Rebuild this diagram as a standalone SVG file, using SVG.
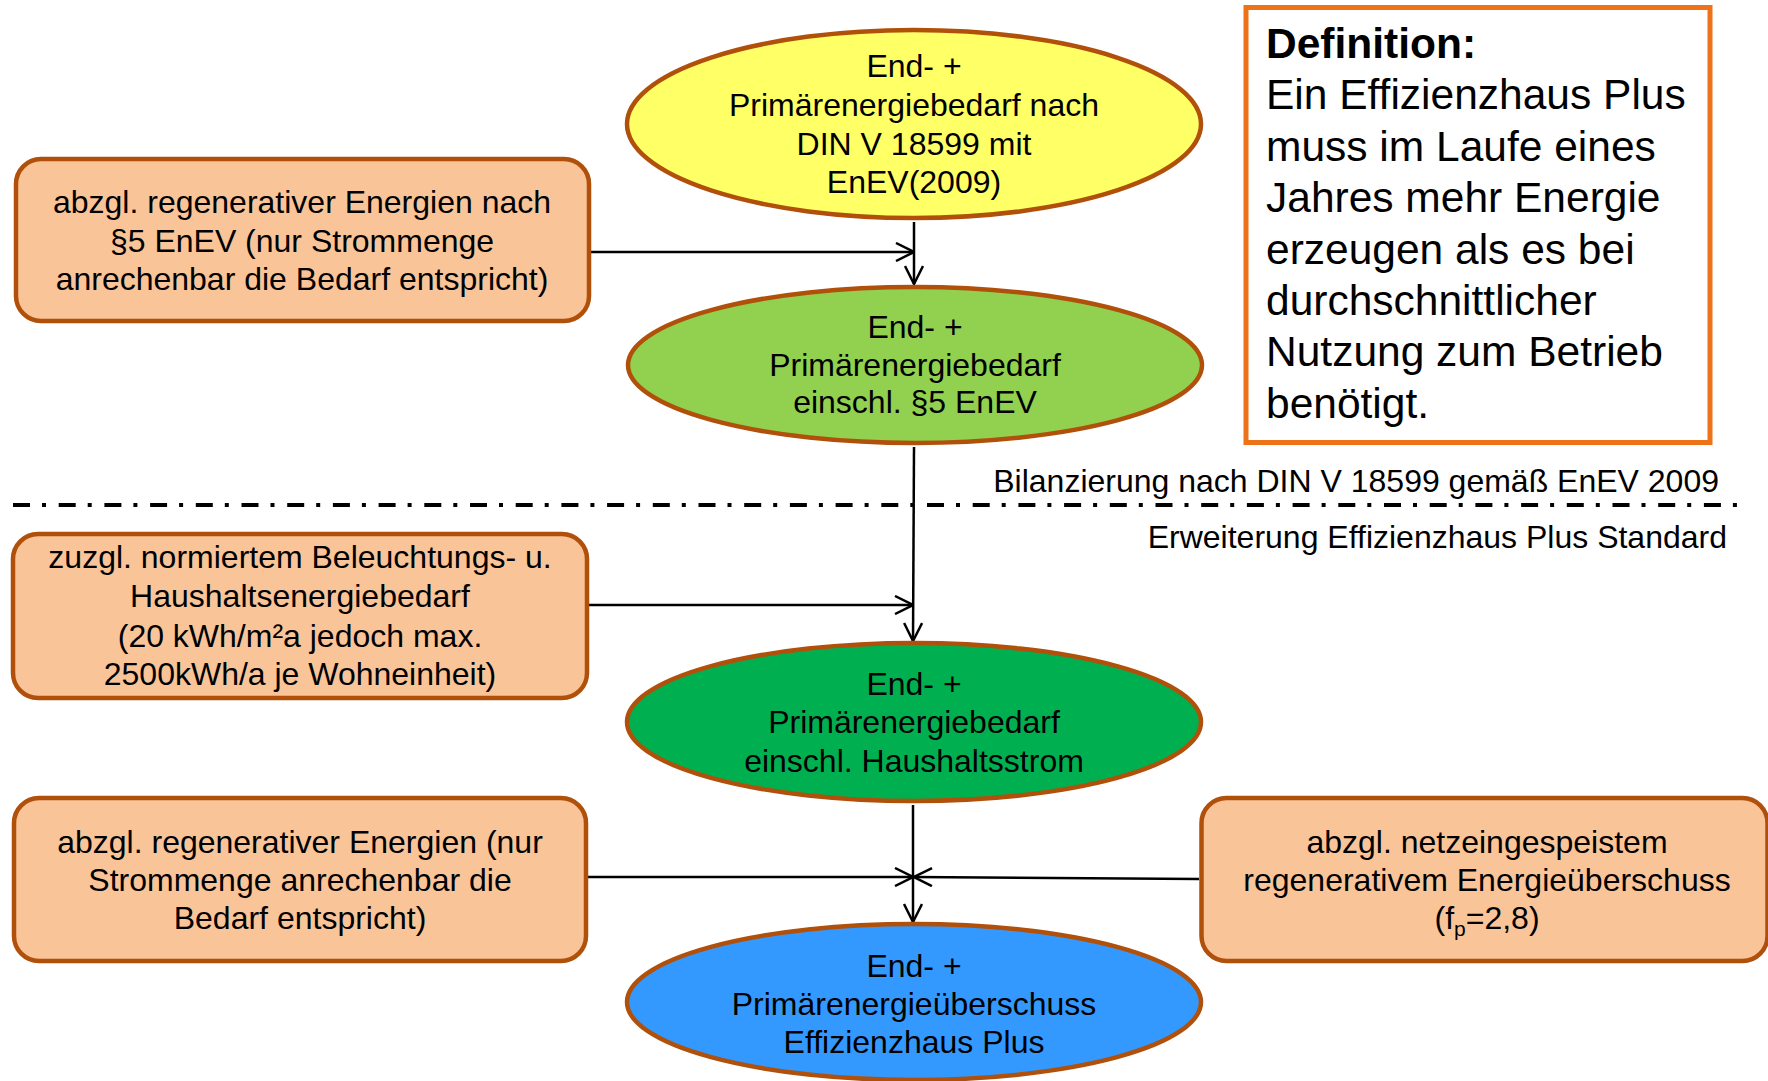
<svg xmlns="http://www.w3.org/2000/svg" width="1768" height="1081" viewBox="0 0 1768 1081">
<style>
text{font-family:"Liberation Sans",Arial,sans-serif;fill:#000}
.t{font-size:32px;text-anchor:middle}
.e{stroke:#B0500A;stroke-width:4.5}
.box{fill:#FAC499;stroke:#B0500A;stroke-width:4.5}
.c{stroke:#000;stroke-width:2.5;fill:none}
.def{font-size:42.5px}
</style>
<defs>
<marker id="ah" viewBox="0 0 20 20" refX="19" refY="10" markerWidth="20" markerHeight="20" markerUnits="userSpaceOnUse" orient="auto">
<path d="M1,1 L19,10 L1,19" fill="none" stroke="#000" stroke-width="2.5"/>
</marker>
</defs>
<rect width="1768" height="1081" fill="#fff"/>

<g id="connectors">
<line class="c" x1="914" y1="222" x2="914" y2="284" marker-end="url(#ah)"/>
<line class="c" x1="591" y1="252" x2="914" y2="252" marker-end="url(#ah)"/>
<line class="c" x1="914" y1="447" x2="913" y2="641" marker-end="url(#ah)"/>
<line class="c" x1="589" y1="605" x2="913" y2="605" marker-end="url(#ah)"/>
<line class="c" x1="913" y1="805" x2="913" y2="922" marker-end="url(#ah)"/>
<line class="c" x1="588" y1="877" x2="913" y2="877" marker-end="url(#ah)"/>
<line class="c" x1="1199" y1="879" x2="914" y2="877" marker-end="url(#ah)"/>
</g>

<g id="separator">
<line x1="13" y1="505" x2="1740" y2="505" stroke="#000" stroke-width="4" stroke-dasharray="17 12 4 12.7"/>
<text x="1719" y="492" font-size="32" text-anchor="end">Bilanzierung nach DIN V 18599 gemäß EnEV 2009</text>
<text x="1727" y="548" font-size="32" text-anchor="end">Erweiterung Effizienzhaus Plus Standard</text>
</g>

<g id="node-e1">
<ellipse class="e" cx="914" cy="124" rx="287" ry="94" fill="#FFFF66"/>
<text class="t" x="914" y="77">End- +</text>
<text class="t" x="914" y="116">Primärenergiebedarf nach</text>
<text class="t" x="914" y="155">DIN V 18599 mit</text>
<text class="t" x="914" y="193">EnEV(2009)</text>
</g>

<g id="node-e2">
<ellipse class="e" cx="915" cy="365" rx="287" ry="78" fill="#92D050"/>
<text class="t" x="915" y="338">End- +</text>
<text class="t" x="915" y="376">Primärenergiebedarf</text>
<text class="t" x="915" y="413">einschl. §5 EnEV</text>
</g>

<g id="node-e3">
<ellipse class="e" cx="914" cy="722" rx="287" ry="79" fill="#00B050"/>
<text class="t" x="914" y="695">End- +</text>
<text class="t" x="914" y="733">Primärenergiebedarf</text>
<text class="t" x="914" y="772">einschl. Haushaltsstrom</text>
</g>

<g id="node-e4">
<ellipse class="e" cx="914" cy="1002" rx="287" ry="78" fill="#3399FF"/>
<text class="t" x="914" y="977">End- +</text>
<text class="t" x="914" y="1015">Primärenergieüberschuss</text>
<text class="t" x="914" y="1053">Effizienzhaus Plus</text>
</g>

<g id="node-box1">
<rect class="box" x="16" y="159" width="573" height="162" rx="25"/>
<text class="t" x="302" y="213">abzgl. regenerativer Energien nach</text>
<text class="t" x="302" y="252">§5 EnEV (nur Strommenge</text>
<text class="t" x="302" y="290">anrechenbar die Bedarf entspricht)</text>
</g>

<g id="node-box2">
<rect class="box" x="13" y="534" width="574" height="164" rx="25"/>
<text class="t" x="300" y="568">zuzgl. normiertem Beleuchtungs- u.</text>
<text class="t" x="300" y="607">Haushaltsenergiebedarf</text>
<text class="t" x="300" y="647">(20 kWh/m²a jedoch max.</text>
<text class="t" x="300" y="685">2500kWh/a je Wohneinheit)</text>
</g>

<g id="node-box3">
<rect class="box" x="14" y="798" width="572" height="163" rx="25"/>
<text class="t" x="300" y="853">abzgl. regenerativer Energien (nur</text>
<text class="t" x="300" y="891">Strommenge anrechenbar die</text>
<text class="t" x="300" y="929">Bedarf entspricht)</text>
</g>

<g id="node-box4">
<rect class="box" x="1201.5" y="798" width="566" height="163" rx="25"/>
<text class="t" x="1487" y="853">abzgl. netzeingespeistem</text>
<text class="t" x="1487" y="891">regenerativem Energieüberschuss</text>
<text class="t" x="1487" y="929">(f<tspan font-size="21" dy="7">p</tspan><tspan dy="-7">=2,8)</tspan></text>
</g>

<g id="node-definition">
<rect x="1246" y="7.5" width="464" height="435" fill="#fff" stroke="#EE7218" stroke-width="5"/>
<text class="def" x="1266" y="58" font-weight="bold">Definition:</text>
<text class="def" x="1266" y="109.4">Ein Effizienzhaus Plus</text>
<text class="def" x="1266" y="160.8">muss im Laufe eines</text>
<text class="def" x="1266" y="212.2">Jahres mehr Energie</text>
<text class="def" x="1266" y="263.6">erzeugen als es bei</text>
<text class="def" x="1266" y="315">durchschnittlicher</text>
<text class="def" x="1266" y="366.4">Nutzung zum Betrieb</text>
<text class="def" x="1266" y="417.8">benötigt.</text>
</g>
</svg>
